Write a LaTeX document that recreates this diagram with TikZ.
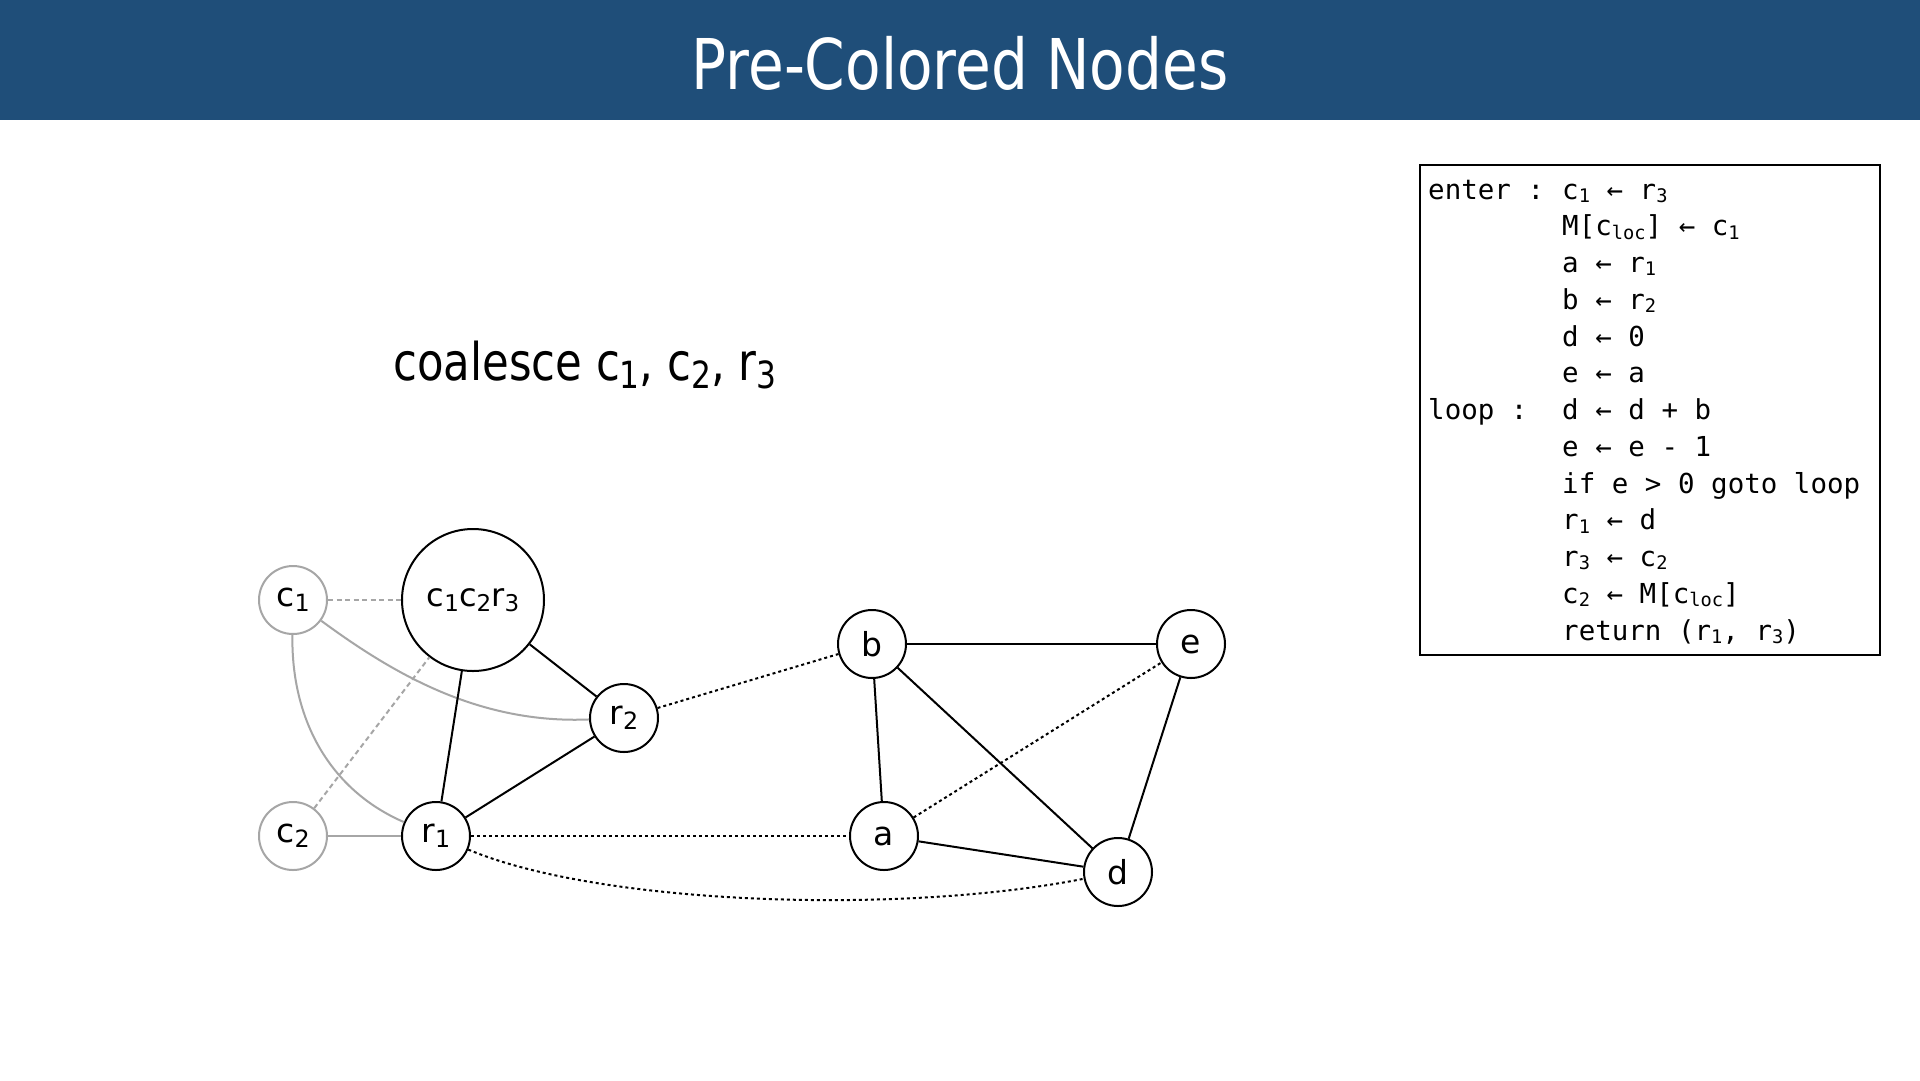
\documentclass[tikz,border=0pt]{standalone}
\usepackage{fontspec}
\usepackage{graphicx}
\setmainfont{DejaVu Sans}
\setmonofont{DejaVu Sans Mono}
\newfontfamily\titlefont[FakeStretch=0.83]{DejaVu Sans}
\newfontfamily\coalfont[FakeStretch=0.835]{DejaVu Sans}
\newfontfamily\nodefont{DejaVu Sans}
\definecolor{hdr}{HTML}{1F4E79}
\definecolor{grayc}{HTML}{A6A6A6}
\newcommand\lo[1]{\raisebox{-0.16em}{\scalebox{0.72}{#1}}}
\newcommand\cs[1]{\raisebox{-0.12em}{\scalebox{0.68}{#1}}}
\tikzset{
  vtx/.style={circle, draw=black, line width=2pt, minimum size=68pt, inner sep=0pt,
    font=\nodefont\fontsize{33}{33}\selectfont},
  pvtx/.style={vtx, draw=grayc},
  bigvtx/.style={vtx, minimum size=142pt, font=\nodefont\fontsize{32}{32}\selectfont},
  eblack/.style={draw=black, line width=2pt},
  edot/.style={draw=black, line width=2pt, dash pattern=on 3pt off 3pt},
  egray/.style={draw=grayc, line width=2pt},
  egdash/.style={draw=grayc, line width=2pt, dash pattern=on 5pt off 3.5pt},
  codeline/.style={anchor=base west, inner sep=0pt, font=\ttfamily\fontsize{27.5}{27.5}\selectfont}
}
\begin{document}
\begin{tikzpicture}[x=1pt,y=-1pt]
\useasboundingbox (0,0) rectangle (1920,1080);
\fill[white] (0,0) rectangle (1920,1080);
% header
\fill[hdr] (0,0) rectangle (1920,120);
\node[text=white, font=\titlefont\fontsize{70}{70}\selectfont] (title) at (960,63) {Pre-Colored Nodes};
% coalesce text
\node[anchor=base west, inner sep=0pt, font=\coalfont\fontsize{52}{52}\selectfont] (coal) at (393,380)
  {coalesce c\lo{1}, c\lo{2}, r\lo{3}};
% nodes
\node[pvtx] (c1) at (293,600) {c\lo{1}};
\node[bigvtx] (big) at (473,600) {c\lo{1}c\lo{2}r\lo{3}};
\node[vtx] (r2) at (624,718) {r\lo{2}};
\node[pvtx] (c2) at (293,836) {c\lo{2}};
\node[vtx] (r1) at (436,836) {r\lo{1}};
\node[vtx] (b) at (872,644) {b};
\node[vtx] (e) at (1191,644) {e};
\node[vtx] (a) at (884,836) {a};
\node[vtx] (d) at (1118,872) {d};
% gray edges
\draw[egdash] (c1) -- (big);
\draw[egdash] (c2) -- (big);
\draw[egray] (c2) -- (r1);
\draw[egray] (c1) .. controls (395,675) and (480,724) .. (r2);
\draw[egray] (c1) .. controls (291,720) and (330,790) .. (r1);
% black edges
\draw[eblack] (big) -- (r2);
\draw[eblack] (big) -- (r1);
\draw[eblack] (r1) -- (r2);
\draw[eblack] (b) -- (e);
\draw[eblack] (b) -- (a);
\draw[eblack] (b) -- (d);
\draw[eblack] (a) -- (d);
\draw[eblack] (e) -- (d);
% dotted edges
\draw[edot] (r2) -- (b);
\draw[edot] (r1) -- (a);
\draw[edot] (a) -- (e);
\draw[edot] (r1) .. controls (600,905) and (900,915) .. (d);
% code box
\draw[line width=1.5pt] (1420,165) rectangle (1880,655);
\node[codeline] (lab1) at (1428,199) {enter :};
\node[codeline] (lab2) at (1428,{199+36.75*6}) {loop :};
\foreach \t [count=\i] in {
  {c\cs{1} ← r\cs{3}},
  {M[c\cs{loc}] ← c\cs{1}},
  {a ← r\cs{1}},
  {b ← r\cs{2}},
  {d ← 0},
  {e ← a},
  {d ← d + b},
  {e ← e - 1},
  {if e > 0 goto loop},
  {r\cs{1} ← d},
  {r\cs{3} ← c\cs{2}},
  {c\cs{2} ← M[c\cs{loc}]},
  {return (r\cs{1}, r\cs{3})}} {
  \node[codeline] (cl\i) at (1562,{199+36.75*(\i-1)}) {\t};
}
\end{tikzpicture}
\end{document}
